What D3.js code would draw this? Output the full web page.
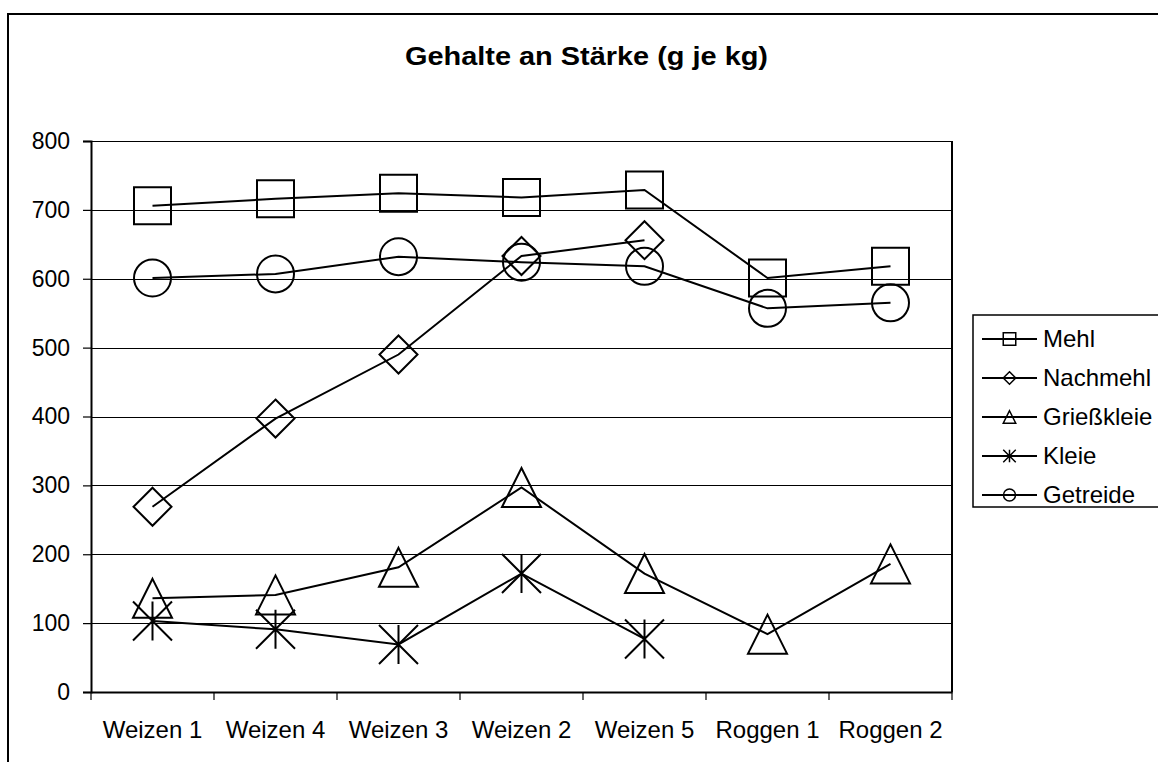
<!DOCTYPE html>
<html>
<head>
<meta charset="utf-8">
<script src="https://cdn.jsdelivr.net/npm/d3@7"></script>
<style>
  body { margin: 0; background: #fff; }
  svg { display: block; font-family: "Liberation Sans", Arial, sans-serif; }
</style>
</head>
<body>
<div id="chart"></div>
<script>
// data
var categories = ['Weizen 1', 'Weizen 4', 'Weizen 3', 'Weizen 2', 'Weizen 5', 'Roggen 1', 'Roggen 2'];
var mehl = [706, 716, 724, 718, 729, 601, 618];
var nachmehl = [269, 397, 490, 633, 656, null, null];
var griesskleie = [136, 141, 181, 297, 172, 84, 186];
var kleie = [103, 91, 69, 172, 77, null, null];
var getreide = [601, 607, 632, 624, 618, 557, 565];
var y_ticks = [0, 100, 200, 300, 400, 500, 600, 700, 800];

var series = [
  { name: 'Mehl', values: mehl, marker: 'square' },
  { name: 'Nachmehl', values: nachmehl, marker: 'diamond' },
  { name: 'Grie\u00dfkleie', values: griesskleie, marker: 'triangle' },
  { name: 'Kleie', values: kleie, marker: 'star' },
  { name: 'Getreide', values: getreide, marker: 'circle' }
];

var width = 1158;
var height = 762;
var plot = { left: 91, right: 952, top: 141, bottom: 692 };
var font = '"Liberation Sans", Arial, sans-serif';

var svg = d3.select('#chart')
            .append('svg')
            .attr('width', width)
            .attr('height', height);

// outer chart border (runs off the right and bottom edge)
svg.append('rect')
   .attr('x', 8).attr('y', 14)
   .attr('width', 1200).attr('height', 800)
   .attr('fill', 'none')
   .attr('stroke', '#000')
   .attr('stroke-width', 2);

var x_scale = d3.scaleBand()
                .domain(categories)
                .range([plot.left, plot.right]);

var y_scale = d3.scaleLinear()
                .domain([0, 800])
                .range([plot.bottom, plot.top]);

function cx(i) { return x_scale(categories[i]) + x_scale.bandwidth() / 2; }

// gridlines
svg.append('g')
   .selectAll('line')
   .data(y_ticks.slice(1))
   .enter()
   .append('line')
   .attr('x1', plot.left).attr('x2', plot.right)
   .attr('y1', function(d){ return Math.round(y_scale(d)) + 0.5; })
   .attr('y2', function(d){ return Math.round(y_scale(d)) + 0.5; })
   .attr('stroke', '#000')
   .attr('stroke-width', 1);

// right border of the plot area
svg.append('line')
   .attr('x1', plot.right).attr('x2', plot.right)
   .attr('y1', plot.top).attr('y2', plot.bottom)
   .attr('stroke', '#000')
   .attr('stroke-width', 2);

// y axis
var y_axis = svg.append('g')
   .attr('transform', 'translate(' + plot.left + ',0)')
   .call(d3.axisLeft(y_scale).tickValues(y_ticks).tickSize(8).tickPadding(13));
y_axis.attr('font-size', 23).attr('font-family', font);
y_axis.select('.domain').attr('stroke-width', 2);
y_axis.selectAll('.tick line').attr('stroke-width', 1.2);
y_axis.selectAll('text').attr('fill', '#000');

// x axis: labels centred in each band, ticks on the band edges
var x_axis = svg.append('g')
   .attr('transform', 'translate(0,' + plot.bottom + ')')
   .call(d3.axisBottom(x_scale).tickSize(0).tickPadding(29));
x_axis.attr('font-size', 24).attr('font-family', font);
x_axis.select('.domain').attr('stroke-width', 2);
x_axis.selectAll('text').attr('fill', '#000');

var edges = categories.map(function(c){ return x_scale(c); }).concat([plot.right]);
svg.append('g')
   .selectAll('line')
   .data(edges)
   .enter()
   .append('line')
   .attr('x1', function(d){ return d; }).attr('x2', function(d){ return d; })
   .attr('y1', plot.bottom).attr('y2', plot.bottom + 8)
   .attr('stroke', '#000')
   .attr('stroke-width', 1.2);

// marker shapes, s = full box size
function markerPath(type, s) {
  var h = s / 2;
  var p = d3.path();
  if (type === 'square') {
    p.rect(-h, -h, s, s);
  } else if (type === 'diamond') {
    p.moveTo(0, -h); p.lineTo(h, 0); p.lineTo(0, h); p.lineTo(-h, 0); p.closePath();
  } else if (type === 'triangle') {
    p.moveTo(0, -h); p.lineTo(h, h); p.lineTo(-h, h); p.closePath();
  } else if (type === 'star') {
    p.moveTo(0, -h); p.lineTo(0, h);
    p.moveTo(-h, -h); p.lineTo(h, h);
    p.moveTo(-h, h); p.lineTo(h, -h);
  } else {
    p.moveTo(h, 0);
    p.arc(0, 0, h, 0, 2 * Math.PI);
  }
  return p.toString();
}

var markerSize = { square: 37, diamond: 38, triangle: 39, star: 39, circle: 37 };

var line = d3.line()
             .defined(function(d){ return d !== null; })
             .x(function(d, i){ return cx(i); })
             .y(function(d){ return y_scale(d); });

series.forEach(function(s){
  svg.append('path')
     .datum(s.values)
     .attr('d', line)
     .attr('fill', 'none')
     .attr('stroke', '#000')
     .attr('stroke-width', 2);

  svg.append('g')
     .selectAll('path')
     .data(s.values.map(function(v, i){ return { v: v, i: i }; })
                   .filter(function(d){ return d.v !== null; }))
     .enter()
     .append('path')
     .attr('transform', function(d){ return 'translate(' + cx(d.i) + ',' + y_scale(d.v) + ')'; })
     .attr('d', markerPath(s.marker, markerSize[s.marker]))
     .attr('fill', 'none')
     .attr('stroke', '#000')
     .attr('stroke-width', 2);
});

// title
svg.append('text')
   .attr('x', 586.5)
   .attr('y', 65)
   .attr('text-anchor', 'middle')
   .attr('textLength', 363)
   .attr('lengthAdjust', 'spacingAndGlyphs')
   .style('font-size', '25px')
   .style('font-weight', 'bold')
   .text('Gehalte an St\u00e4rke (g je kg)');

// legend
var legend = svg.append('g');
legend.append('rect')
      .attr('x', 973).attr('y', 315)
      .attr('width', 200).attr('height', 192)
      .attr('fill', '#fff')
      .attr('stroke', '#000')
      .attr('stroke-width', 1.5);

var rows = legend.selectAll('g.row')
      .data(series)
      .enter()
      .append('g')
      .attr('class', 'row')
      .attr('transform', function(d, i){ return 'translate(0,' + (339 + i * 39) + ')'; });

rows.append('line')
    .attr('x1', 982).attr('x2', 1037)
    .attr('y1', 0).attr('y2', 0)
    .attr('stroke', '#000')
    .attr('stroke-width', 2);

rows.append('path')
    .attr('transform', 'translate(1009.5,0)')
    .attr('d', function(d){ return markerPath(d.marker, d.marker === 'circle' ? 12 : 12.5); })
    .attr('fill', 'none')
    .attr('stroke', '#000')
    .attr('stroke-width', 1.5);

rows.append('text')
    .attr('x', 1043)
    .attr('y', 8)
    .style('font-size', '24px')
    .text(function(d){ return d.name; });
</script>
</body>
</html>
